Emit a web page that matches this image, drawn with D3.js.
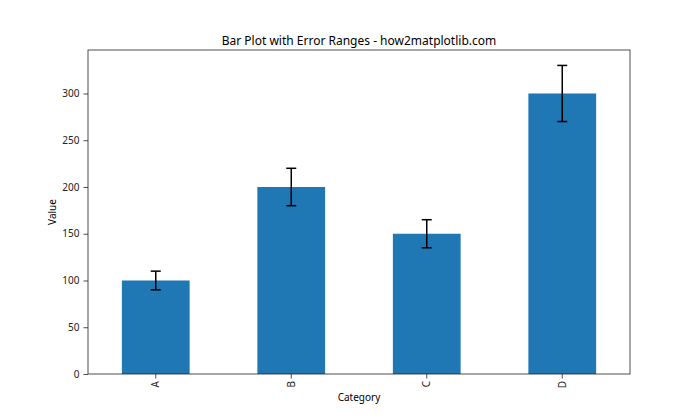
<!DOCTYPE html>
<html><head><meta charset="utf-8">
<script src="https://cdn.jsdelivr.net/npm/d3@7"></script>
<style>body{margin:0;background:#fff}svg{font-family:"Noto Sans","Open Sans",sans-serif}</style>
</head><body><svg id="c" width="700" height="420"></svg>
<script>
const categories = ["A","B","C","D"];
const values = [100,200,150,300];
const errors = [10,20,15,30];
const yTicks = [0,50,100,150,200,250,300];

const m = {left:88, right:630, top:50, bottom:374};
const svg = d3.select("#c");
svg.append("rect").attr("width",700).attr("height",420).attr("fill","#fff");

const x = d3.scaleBand().domain(categories).range([m.left,m.right]).paddingInner(0.5).paddingOuter(0.25);
const y = d3.scaleLinear().domain([0,346.5]).range([m.bottom,m.top]);

const data = categories.map((c,i)=>({c,v:values[i],e:errors[i]}));

svg.selectAll("rect.bar").data(data).enter().append("rect").attr("class","bar")
  .attr("x",d=>x(d.c)).attr("width",x.bandwidth())
  .attr("y",d=>y(d.v)).attr("height",d=>y(0)-y(d.v)).attr("fill","#1f77b4");

const eg = svg.selectAll("g.err").data(data).enter().append("g").attr("class","err")
  .attr("stroke","#000").attr("stroke-width",1.5);
const cx = d=>x(d.c)+x.bandwidth()/2;
eg.append("line").attr("x1",cx).attr("x2",cx).attr("y1",d=>y(d.v-d.e)).attr("y2",d=>y(d.v+d.e));
eg.append("line").attr("x1",d=>cx(d)-5).attr("x2",d=>cx(d)+5).attr("y1",d=>y(d.v-d.e)).attr("y2",d=>y(d.v-d.e));
eg.append("line").attr("x1",d=>cx(d)-5).attr("x2",d=>cx(d)+5).attr("y1",d=>y(d.v+d.e)).attr("y2",d=>y(d.v+d.e));

const yAxis = svg.append("g").attr("transform",`translate(${m.left},0)`)
  .call(d3.axisLeft(y).tickValues(yTicks).tickSize(4.5).tickPadding(4));
const xAxis = svg.append("g").attr("transform",`translate(0,${m.bottom})`)
  .call(d3.axisBottom(x).tickSize(4.5).tickPadding(4));
[yAxis,xAxis].forEach(a=>{a.select(".domain").remove();a.selectAll("line").attr("stroke","#222").attr("stroke-width",0.8);
  a.selectAll("text").attr("font-size",10).attr("fill","#222").attr("font-family","'Noto Sans',sans-serif");});
xAxis.selectAll("text").attr("transform","rotate(-90)").attr("text-anchor","end").attr("dy","0.35em")
  .attr("x",-7).attr("y",0);

svg.append("rect").attr("x",m.left).attr("y",m.top).attr("width",m.right-m.left).attr("height",m.bottom-m.top)
  .attr("fill","none").attr("stroke","#222").attr("stroke-width",0.8);

svg.append("text").attr("x",(m.left+m.right)/2).attr("y",45).attr("text-anchor","middle")
  .attr("font-size",12).attr("fill","#000").text("Bar Plot with Error Ranges - how2matplotlib.com");
svg.append("text").attr("x",(m.left+m.right)/2).attr("y",401).attr("text-anchor","middle")
  .attr("font-size",10).attr("fill","#000").text("Category");
svg.append("text").attr("transform",`translate(56,${(m.top+m.bottom)/2}) rotate(-90)`).attr("text-anchor","middle")
  .attr("font-size",10).attr("fill","#000").text("Value");
</script></body></html>
